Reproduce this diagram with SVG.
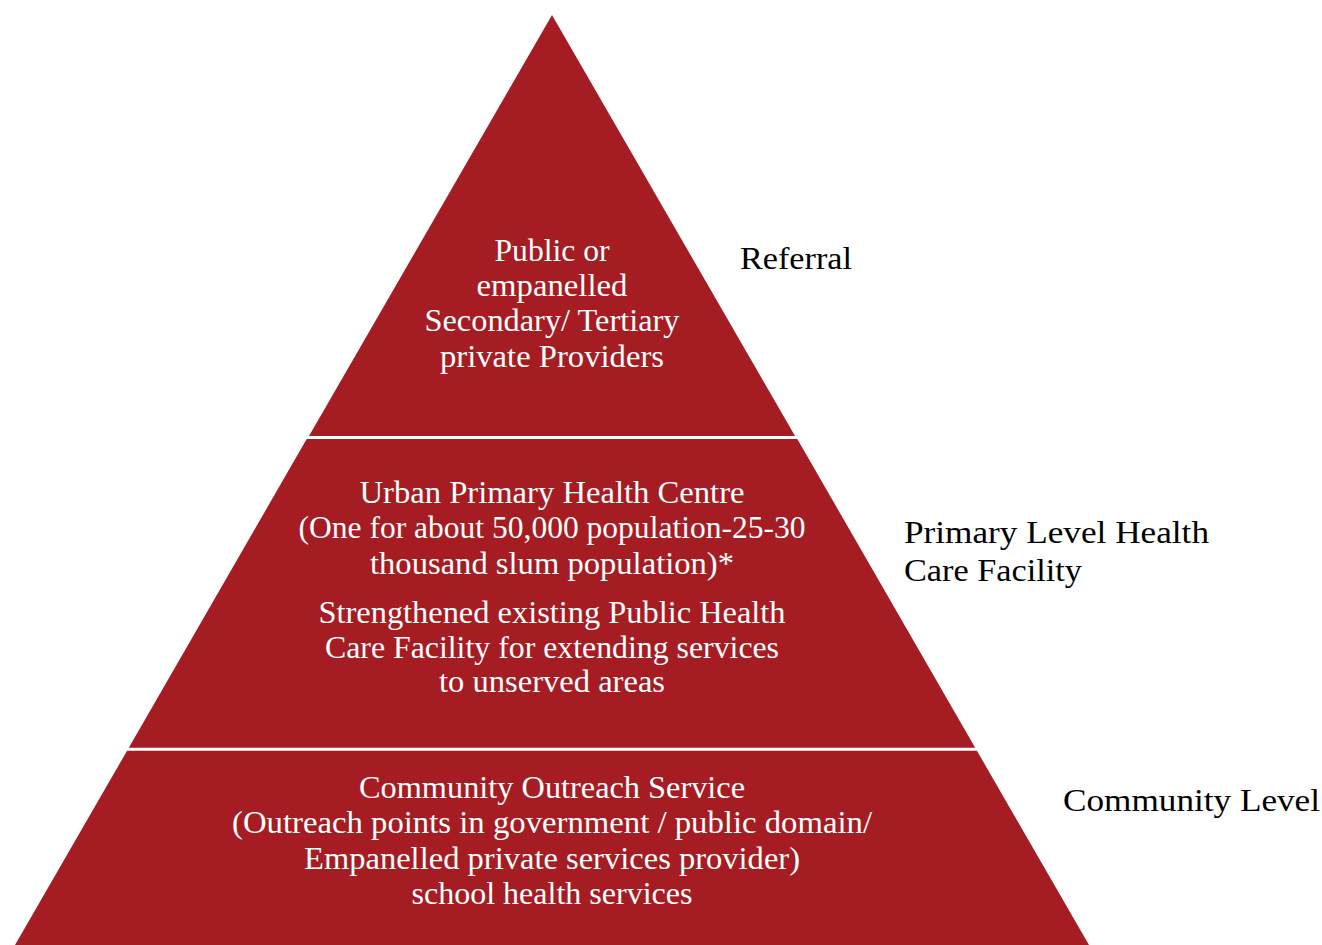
<svg xmlns="http://www.w3.org/2000/svg" width="1322" height="945" viewBox="0 0 1322 945">
  <style>
    .tier { fill: #A61C23; }
    .in { font-family: "Liberation Serif", "Times New Roman", serif; font-size: 32px; fill: #FFFFFF; text-anchor: middle; }
    .lbl { font-family: "Liberation Serif", "Times New Roman", serif; font-size: 32px; fill: #000000; }
  </style>
  <rect width="1322" height="945" fill="#FFFFFF"/>
  <g id="tier-referral">
    <polygon class="tier" points="552,15 795,436 309,436"/>
    <text class="in" x="552" y="261" textLength="115" lengthAdjust="spacingAndGlyphs">Public or</text>
    <text class="in" x="552" y="296" textLength="151" lengthAdjust="spacingAndGlyphs">empanelled</text>
    <text class="in" x="552" y="331" textLength="255" lengthAdjust="spacingAndGlyphs">Secondary/ Tertiary</text>
    <text class="in" x="552" y="367" textLength="224" lengthAdjust="spacingAndGlyphs">private Providers</text>
  </g>
  <g id="tier-primary">
    <polygon class="tier" points="306.7,439 797.3,439 975.2,747.7 128.8,747.7"/>
    <text class="in" x="552" y="503" textLength="385" lengthAdjust="spacingAndGlyphs">Urban Primary Health Centre</text>
    <text class="in" x="552" y="538" textLength="507" lengthAdjust="spacingAndGlyphs">(One for about 50,000 population-25-30</text>
    <text class="in" x="552" y="574" textLength="364" lengthAdjust="spacingAndGlyphs">thousand slum population)*</text>
    <text class="in" x="552" y="623" textLength="467" lengthAdjust="spacingAndGlyphs">Strengthened existing Public Health</text>
    <text class="in" x="552" y="658" textLength="454" lengthAdjust="spacingAndGlyphs">Care Facility for extending services</text>
    <text class="in" x="552" y="692" textLength="226" lengthAdjust="spacingAndGlyphs">to unserved areas</text>
  </g>
  <g id="tier-community">
    <polygon class="tier" points="127.1,750.7 976.9,750.7 1089,945 15,945"/>
    <text class="in" x="552" y="798" textLength="386" lengthAdjust="spacingAndGlyphs">Community Outreach Service</text>
    <text class="in" x="552" y="833" textLength="640" lengthAdjust="spacingAndGlyphs">(Outreach points in government / public domain/</text>
    <text class="in" x="552" y="869" textLength="496" lengthAdjust="spacingAndGlyphs">Empanelled private services provider)</text>
    <text class="in" x="552" y="904" textLength="281" lengthAdjust="spacingAndGlyphs">school health services</text>
  </g>
  <g id="label-referral">
    <text class="lbl" x="740" y="269" textLength="112" lengthAdjust="spacingAndGlyphs">Referral</text>
  </g>
  <g id="label-primary">
    <text class="lbl" x="904" y="543" textLength="305" lengthAdjust="spacingAndGlyphs">Primary Level Health</text>
    <text class="lbl" x="904" y="581" textLength="178" lengthAdjust="spacingAndGlyphs">Care Facility</text>
  </g>
  <g id="label-community">
    <text class="lbl" x="1063" y="811" textLength="257" lengthAdjust="spacingAndGlyphs">Community Level</text>
  </g>
  <g id="connectors"/>
</svg>
